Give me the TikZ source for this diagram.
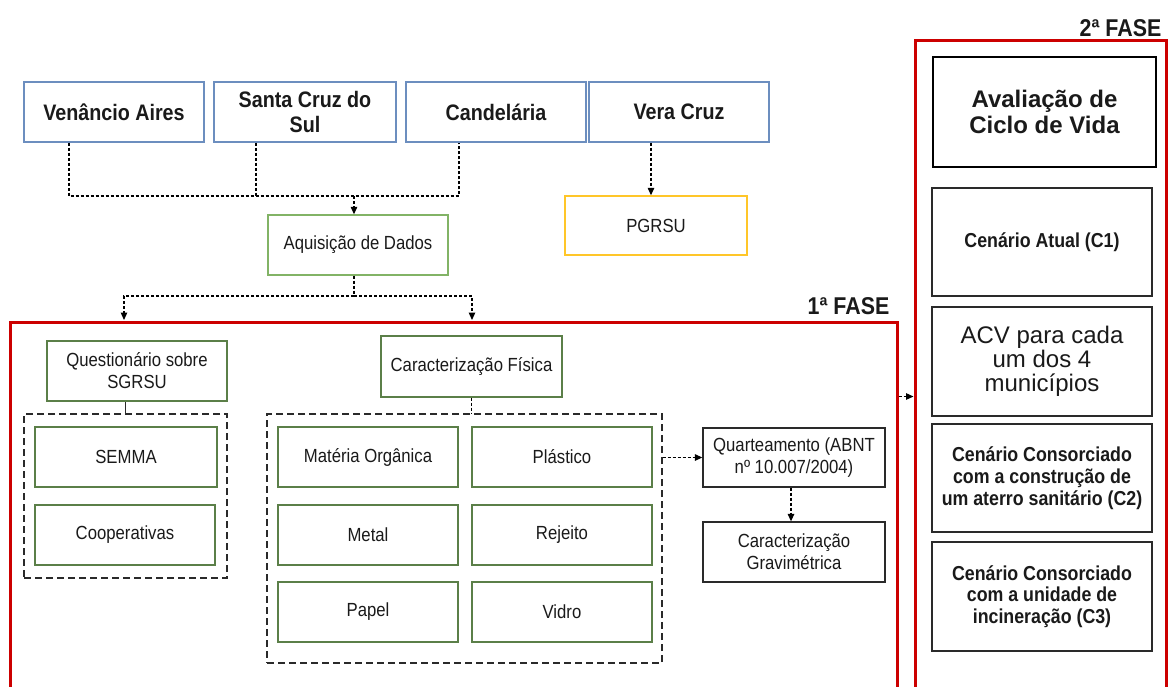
\documentclass[tikz,border=0pt]{standalone}
\usepackage{fontspec}
\setmainfont{Liberation Sans}[FakeStretch=0.88]
\newfontfamily\widesans{Liberation Sans}
\usetikzlibrary{arrows.meta,calc}
\definecolor{townblue}{HTML}{6C8EBF}
\definecolor{leafgreen}{HTML}{82B366}
\definecolor{mossgreen}{HTML}{5B7F48}
\definecolor{planyellow}{HTML}{FFC629}
\definecolor{phasered}{HTML}{CC0000}
\definecolor{ink}{HTML}{1A1A1A}
\definecolor{edgegray}{HTML}{2A2A2A}
\begin{document}
\begin{tikzpicture}[x=1pt,y=-1pt,
  box/.style={rectangle, draw, inner sep=2pt, align=center, text=ink},
  regular/.style={font=\fontsize{19}{22}\selectfont},
  town/.style={box, draw=townblue, line width=1.4pt, minimum width=180pt,
    minimum height=60pt, font=\fontsize{22.4}{25}\selectfont\bfseries},
  datastep/.style={box, regular, draw=leafgreen, line width=1.4pt,
    minimum width=180pt, minimum height=60pt},
  planbox/.style={box, regular, draw=planyellow, line width=1.4pt,
    minimum width=182pt, minimum height=59pt},
  item/.style={box, regular, draw=mossgreen, line width=1.3pt,
    minimum width=180pt, minimum height=60pt},
  method/.style={box, regular, draw=edgegray, line width=1.3pt,
    minimum width=182pt, minimum height=59pt},
  group/.style={rectangle, draw=edgegray, line width=1.3pt,
    dash pattern=on 7pt off 4pt, inner sep=0pt},
  frame/.style={rectangle, draw=phasered, line width=3pt, inner sep=0pt},
  phase/.style={text=ink, inner sep=0pt, font=\fontsize{24.3}{26}\selectfont\bfseries},
  scen/.style={box, draw=edgegray, line width=1.3pt, minimum width=220pt,
    minimum height=108pt, font=\fontsize{20.2}{21.7}\selectfont\bfseries},
  lcatitle/.style={box, draw=black, line width=2.6pt, minimum width=223pt,
    minimum height=110pt, font=\widesans\fontsize{24}{26}\selectfont\bfseries},
  link/.style={draw=black, line width=1.25pt, dash pattern=on 3pt off 2pt},
  tip/.style={-{Triangle[length=7.5pt,width=6.5pt]}}
]
\useasboundingbox[fill=white] (0,0) rectangle (1168,686);

% phase frames
\node[frame, minimum width=887pt, minimum height=378pt] (f1) at (453.5,511) {};
\node[frame, minimum width=251pt, minimum height=660pt] (f2) at (1040.5,370) {};
\node[phase, anchor=base east] (ph1) at ($(f1.north east)+(-9,-6)$) {1ª FASE};
\node[phase, anchor=base east] (ph2) at ($(f2.north east)+(-6,-2)$) {2ª FASE};

% municipalities
\node[town] (va) at (114,112) {Venâncio Aires};
\node[town, minimum width=182pt] (sc) at (305,112) {Santa Cruz do\\Sul};
\node[town] (ca) at (496,112) {Candelária};
\node[town] (vc) at (679,112) {Vera Cruz};

\node[datastep] (aq) at (358,245) {Aquisição de Dados};
\node[planbox] (pg) at (656,225.5) {PGRSU};

% first phase: survey
\node[item] (q) at (137,371) {Questionário sobre\\SGRSU};
\node[group, minimum width=203pt, minimum height=164pt] (g1) at (125.5,496) {};
\node[item, minimum width=182pt] (semma) at (126,457) {SEMMA};
\node[item] (coop) at (125,535) {Cooperativas};

% first phase: physical characterisation
\node[item, minimum width=181pt, minimum height=61pt] (cf) at (471.5,366.5) {Caracterização Física};
\node[group, minimum width=395pt, minimum height=249pt] (g2) at (464.5,538.5) {};
\node[item] (mo) at (368,457) {Matéria Orgânica};
\node[item] (pl) at (562,457) {Plástico};
\node[item] (me) at (368,535) {Metal};
\node[item] (re) at (562,535) {Rejeito};
\node[item] (pa) at (368,612) {Papel};
\node[item] (vi) at (562,612) {Vidro};

\node[method] (qu) at (794,457.5) {Quarteamento (ABNT\\nº 10.007/2004)};
\node[method, minimum height=60pt] (gr) at (794,552) {Caracterização\\Gravimétrica};

% second phase
\node[lcatitle] (lca) at (1044.5,112) {Avaliação de\\Ciclo de Vida};
\node[scen] (c1) at (1042,242) {Cenário Atual (C1)};
\node[scen, minimum height=109pt, font=\widesans\fontsize{24}{24}\selectfont] (c0) at (1042,361.5) {ACV para cada\\um dos 4\\municípios};
\node[scen] (c2) at (1042,478) {Cenário Consorciado\\com a construção de\\um aterro sanitário (C2)};
\node[scen, minimum height=109pt] (c3) at (1042,596.5) {Cenário Consorciado\\com a unidade de\\incineração (C3)};

% connectors
\coordinate (ja) at (69,196);
\coordinate (jb) at (256,196);
\coordinate (jc) at (459,196);
\coordinate (j1) at (354,196);
\draw[link] (ja |- va.south) -- (ja) -- (jc) -- (jc |- ca.south);
\draw[link] (jb |- sc.south) -- (jb);
\draw[link, tip] (j1) -- (j1 |- aq.north);

\draw[link, tip] ($(vc.south)+(-28,0)$) -- ($(pg.north)+(-5,0)$);

\coordinate (jd) at (354,296);
\coordinate (t1) at (124,320);
\coordinate (t2) at (472,320);
\draw[link] (jd |- aq.south) -- (jd);
\draw[link, tip] (jd) -| (t1);
\draw[link, tip] (jd) -| (t2);

\draw[draw=edgegray, line width=1pt] (g1.north) -- (g1.north |- q.south);
\draw[link] (cf.south) -- (cf.south |- g2.north);

\draw[link, tip] (g2.east |- qu.west) -- (qu.west);
\draw[link, tip] ($(qu.south)+(-3,0)$) -- ($(gr.north)+(-3,0)$);

\coordinate (jf) at ($(f1.north east)+(0,76)$);
\draw[link, tip] (jf) -- (jf -| f2.west);
\end{tikzpicture}
\end{document}
